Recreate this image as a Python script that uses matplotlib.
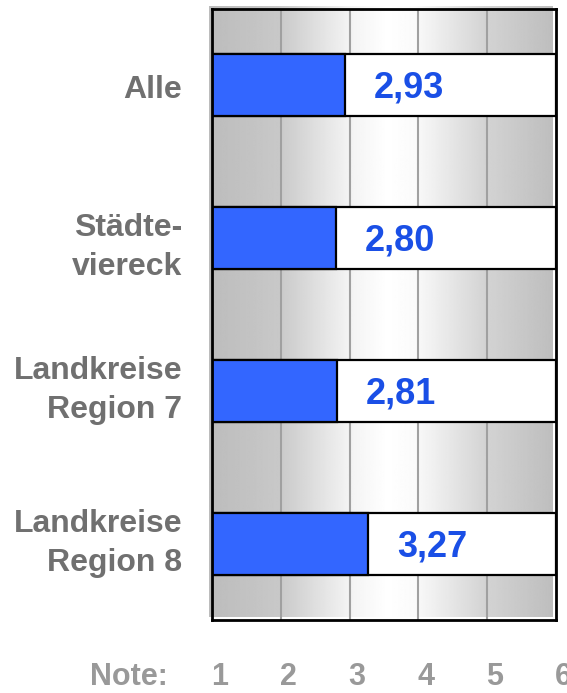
import numpy as np
import matplotlib
matplotlib.use("Agg")
import matplotlib.pyplot as plt
from matplotlib.patches import Rectangle

# Data
categories = ["Alle", "Städte-\nviereck", "Landkreise\nRegion 7", "Landkreise\nRegion 8"]
values = [2.93, 2.80, 2.81, 3.27]
value_labels = ["2,93", "2,80", "2,81", "3,27"]
ticks = [1, 2, 3, 4, 5, 6]

plt.rcParams["font.family"] = ["Liberation Sans", "DejaVu Sans"]

fig = plt.figure(figsize=(5.67, 6.93), dpi=100)
ax = fig.add_axes([212 / 567, 1 - 620 / 693, 344 / 567, 611 / 693])
ax.set_xlim(1, 6)
ax.set_ylim(4, 0)

# grey background gradient (slightly shifted, like the original shadow)
gx = np.linspace(1, 6, 400)
gv = np.interp(gx, [1, 2, 3, 3.6, 4, 5, 6], [188, 200, 242, 255, 250, 212, 190]) / 255
grad = np.tile(gv, (2, 1))
ax.imshow(grad, cmap="gray", vmin=0, vmax=1, aspect="auto",
          extent=[1 - 0.045, 6 - 0.045, 4 - 0.018, 0 - 0.018],
          interpolation="bilinear", zorder=0, clip_on=False)

for t in ticks[1:-1]:
    ax.axvline(t, color="#a0a0a0", lw=1.5, zorder=1)

box_h = 0.405
label_shift = [0.03, 0.06, 0.0, 0.0]
for i, (v, lab) in enumerate(zip(values, value_labels)):
    y = i + 0.5
    ax.add_patch(Rectangle((1, y - box_h / 2), 5, box_h, facecolor="white",
                           edgecolor="black", lw=1.6, zorder=2))
    ax.barh(y, v - 1, left=1, height=box_h, color="#3366ff",
            edgecolor="black", lw=1.6, zorder=3)
    ax.text(v + 0.42, y + 0.02, lab, ha="left", va="center", color="#1a4fe6",
            fontsize=26, fontweight="bold", zorder=4)
    ax.text(0.565, y + label_shift[i], categories[i], ha="right", va="center",
            color="#707070", fontsize=23, fontweight="bold", linespacing=1.4,
            clip_on=False)

# x labels below the frame ("6" is cut by the right edge, as in the original)
for t in ticks:
    ax.text(t + 0.11, 4.425, str(t), ha="center", va="baseline", color="#999999",
            fontsize=22, fontweight="bold", clip_on=False)
ax.text(0.35, 4.425, "Note:", ha="right", va="baseline", color="#999999",
        fontsize=22, fontweight="bold", clip_on=False)

ax.set_xticks([])
ax.set_yticks([])
for s in ax.spines.values():
    s.set_linewidth(2)
    s.set_color("black")
    s.set_zorder(5)

fig.savefig("out.png", dpi=100)
